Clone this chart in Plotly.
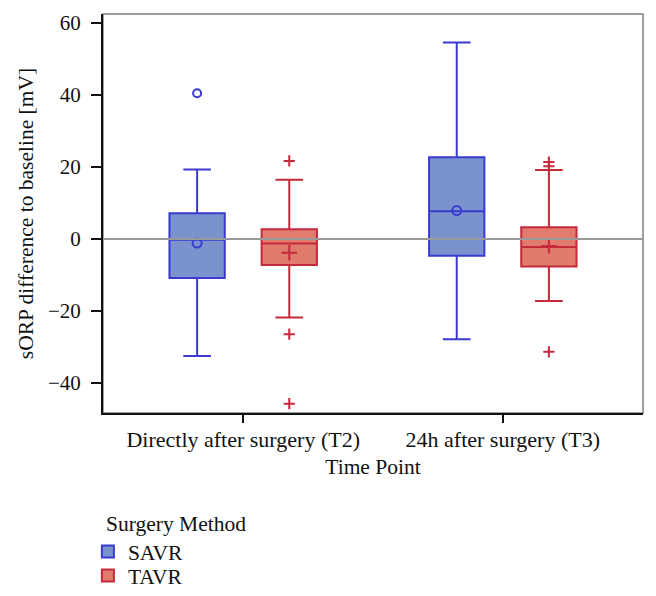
import plotly.graph_objects as go

categories = ["Directly after surgery (T2)", "24h after surgery (T3)"]

savr_q1 = [-10.8, -4.6]
savr_median = [-0.2, 7.7]
savr_q3 = [7.2, 22.7]
savr_lower = [-32.5, -27.8]
savr_upper = [19.3, 54.6]
savr_mean = [-1.1, 7.9]
savr_out_x = ["Directly after surgery (T2)"]
savr_out_y = [40.5]

tavr_q1 = [-7.2, -7.6]
tavr_median = [-1.2, -2.2]
tavr_q3 = [2.7, 3.3]
tavr_lower = [-21.8, -17.2]
tavr_upper = [16.5, 19.2]
tavr_mean = [-3.8, -1.9]
tavr_out_x = ["Directly after surgery (T2)", "Directly after surgery (T2)", "Directly after surgery (T2)",
              "24h after surgery (T3)", "24h after surgery (T3)", "24h after surgery (T3)"]
tavr_out_y = [21.7, -26.4, -45.7, 21.4, 20.2, -31.3]

SAVR_FILL = "#7b93cc"
SAVR_LINE = "#3a3ad0"
TAVR_FILL = "#e07b6e"
TAVR_LINE = "#c42a3a"
FONT = "Liberation Serif"
FS = 21.5

fig = go.Figure()

for name, q1, med, q3, lo, up, fill, line, leg in [
    ("SAVR", savr_q1, savr_median, savr_q3, savr_lower, savr_upper, SAVR_FILL, SAVR_LINE, "legend"),
    ("TAVR", tavr_q1, tavr_median, tavr_q3, tavr_lower, tavr_upper, TAVR_FILL, TAVR_LINE, "legend2"),
]:
    fig.add_trace(go.Box(
        name=name, x=categories, q1=q1, median=med, q3=q3,
        lowerfence=lo, upperfence=up, offsetgroup=name, legend=leg,
        fillcolor=fill, line=dict(color=line, width=2), whiskerwidth=0.5,
        boxpoints=False, hoverinfo="skip",
    ))

# means
fig.add_trace(go.Scatter(x=categories, y=savr_mean, mode="markers", offsetgroup="SAVR",
                         marker=dict(symbol="circle-open", size=9, color=SAVR_LINE, line=dict(width=2, color=SAVR_LINE)),
                         showlegend=False, hoverinfo="skip"))
fig.add_trace(go.Scatter(x=categories, y=tavr_mean, mode="markers", offsetgroup="TAVR",
                         marker=dict(symbol="cross-thin", size=11, color=TAVR_LINE, line=dict(width=2, color=TAVR_LINE)),
                         showlegend=False, hoverinfo="skip"))
# outliers
fig.add_trace(go.Scatter(x=savr_out_x, y=savr_out_y, mode="markers", offsetgroup="SAVR",
                         marker=dict(symbol="circle-open", size=8, color=SAVR_LINE, line=dict(width=2, color=SAVR_LINE)),
                         showlegend=False, hoverinfo="skip"))
fig.add_trace(go.Scatter(x=tavr_out_x, y=tavr_out_y, mode="markers", offsetgroup="TAVR",
                         marker=dict(symbol="cross-thin", size=8, color=TAVR_LINE, line=dict(width=2, color=TAVR_LINE)),
                         showlegend=False, hoverinfo="skip"))

# frame (top/right gray border) and zero reference line
fig.add_shape(type="rect", xref="paper", yref="paper", x0=0, x1=1, y0=0, y1=1,
              line=dict(color="#808080", width=1.5), layer="below")
fig.add_shape(type="line", xref="paper", yref="y", x0=0, x1=1, y0=0, y1=0,
              line=dict(color="#9a9a9a", width=2), layer="above")

legend_common = dict(orientation="v", xanchor="left", yanchor="top",
                     font=dict(size=FS), itemsizing="constant", tracegroupgap=0,
                     bgcolor="rgba(0,0,0,0)")

fig.update_layout(
    width=640, height=580,
    margin=dict(l=95, r=5, t=6, b=175, autoexpand=False),
    paper_bgcolor="white", plot_bgcolor="white",
    boxmode="group", boxgap=0.29, boxgroupgap=0.40,
    scattermode="group", scattergap=0.29,
    font=dict(family=FONT, size=FS, color="#111111"),
    showlegend=True,
    legend=dict(title=dict(text="\u00a0\u00a0\u00a0Surgery Method", side="top", font=dict(size=FS)),
                x=-0.028, y=-0.2256, **legend_common),
    legend2=dict(x=-0.028, y=-0.356, **legend_common),
    xaxis=dict(
        type="category", range=[-0.54, 1.54], automargin=False,
        title=dict(text="Time Point", standoff=8, font=dict(size=FS)),
        showline=True, linecolor="#111111", linewidth=2,
        ticks="outside", ticklen=8, tickwidth=1.5, tickcolor="#111111",
        tickfont=dict(size=22),
        ticklabelstandoff=-2, showgrid=False, zeroline=False,
    ),
    yaxis=dict(
        range=[-48.3, 62.5], tickvals=[-40, -20, 0, 20, 40, 60], automargin=False,
        title=dict(text="sORP difference to baseline [mV]", standoff=8, font=dict(size=FS)),
        showline=True, linecolor="#111111", linewidth=2,
        ticks="outside", ticklen=10, tickwidth=1.5, tickcolor="#111111",
        tickfont=dict(size=21),
        ticklabelstandoff=6, showgrid=False, zeroline=False,
    ),
)

fig.write_html("out.html")
